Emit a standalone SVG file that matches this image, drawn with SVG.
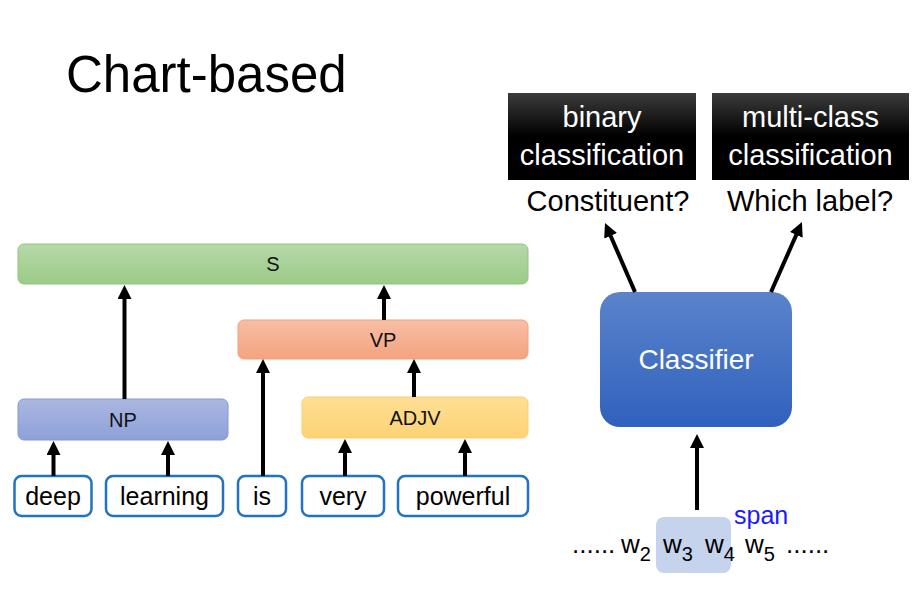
<svg xmlns="http://www.w3.org/2000/svg" width="924" height="600" viewBox="0 0 924 600">
<defs>
<linearGradient id="gS" x1="0" y1="0" x2="0" y2="1"><stop offset="0" stop-color="#b6d8a9"/><stop offset="1" stop-color="#9bcb87"/></linearGradient>
<linearGradient id="gVP" x1="0" y1="0" x2="0" y2="1"><stop offset="0" stop-color="#f7bea5"/><stop offset="1" stop-color="#f4a37f"/></linearGradient>
<linearGradient id="gNP" x1="0" y1="0" x2="0" y2="1"><stop offset="0" stop-color="#abb7e1"/><stop offset="1" stop-color="#8da1d8"/></linearGradient>
<linearGradient id="gADJ" x1="0" y1="0" x2="0" y2="1"><stop offset="0" stop-color="#fedf95"/><stop offset="1" stop-color="#fdd274"/></linearGradient>
<linearGradient id="gBlk" x1="0" y1="0" x2="0" y2="1"><stop offset="0" stop-color="#3c3c3c"/><stop offset="0.5" stop-color="#000"/><stop offset="1" stop-color="#000"/></linearGradient>
<linearGradient id="gCls" x1="0" y1="0" x2="0" y2="1"><stop offset="0" stop-color="#5b83cb"/><stop offset="1" stop-color="#2f61bd"/></linearGradient>
<marker id="ah" viewBox="0 0 14 14" refX="2" refY="7" markerWidth="14" markerHeight="14" markerUnits="userSpaceOnUse" orient="auto"><path d="M0,0 L14,7 L0,14 z" fill="#000"/></marker>
<style>
text{font-family:"Liberation Sans",Arial,sans-serif}
.lbl{font-size:20px;fill:#111;text-anchor:middle}
.word rect{fill:#fff;stroke:#2272c3;stroke-width:2.5}
.word text{font-size:25px;fill:#000;text-anchor:middle}
.con line{stroke:#000;stroke-width:4;marker-end:url(#ah)}
.wt{font-size:29px;fill:#fff;text-anchor:middle}
.q{font-size:29px;fill:#000;text-anchor:middle}
.seq{font-size:26px;fill:#000}
.sub{font-size:20px}
</style>
</defs>
<rect width="924" height="600" fill="#fff"/>
<text x="66" y="92" font-size="51" fill="#000" style="font-weight:300">Chart-based</text>

<g id="S"><rect x="18" y="244" width="510" height="40" rx="6" fill="url(#gS)" stroke="#93c47f"/><text class="lbl" x="273" y="271">S</text></g>
<g id="VP"><rect x="238" y="320" width="290" height="39" rx="6" fill="url(#gVP)" stroke="#f3a17e"/><text class="lbl" x="383" y="347">VP</text></g>
<g id="NP"><rect x="18" y="399" width="210" height="41" rx="6" fill="url(#gNP)" stroke="#8498d0"/><text class="lbl" x="123" y="427">NP</text></g>
<g id="ADJV"><rect x="302" y="397" width="226" height="41" rx="6" fill="url(#gADJ)" stroke="#fbcf6c"/><text class="lbl" x="415" y="425">ADJV</text></g>

<g id="w-deep" class="word"><rect x="14.5" y="476" width="77" height="40" rx="7"/><text x="53" y="505">deep</text></g>
<g id="w-learning" class="word"><rect x="106" y="476" width="117" height="40" rx="7"/><text x="164.5" y="505">learning</text></g>
<g id="w-is" class="word"><rect x="238" y="476" width="48" height="40" rx="7"/><text x="262" y="505">is</text></g>
<g id="w-very" class="word"><rect x="302" y="476" width="82" height="40" rx="7"/><text x="343" y="505">very</text></g>
<g id="w-powerful" class="word"><rect x="398" y="476" width="130" height="40" rx="7"/><text x="463" y="505">powerful</text></g>

<g id="binary"><rect x="508" y="93" width="188" height="87" fill="url(#gBlk)"/><text class="wt" x="602" y="127">binary</text><text class="wt" x="602" y="165">classification</text></g>
<g id="multiclass"><rect x="712" y="93" width="197" height="87" fill="url(#gBlk)"/><text class="wt" x="810.5" y="127">multi-class</text><text class="wt" x="810.5" y="165">classification</text></g>
<g id="q1"><text class="q" x="608" y="211">Constituent?</text></g>
<g id="q2"><text class="q" x="810" y="211">Which label?</text></g>

<g id="Classifier"><rect x="600" y="292" width="192" height="135" rx="20" fill="url(#gCls)"/><text x="696" y="369" font-size="28" fill="#fff" text-anchor="middle">Classifier</text></g>

<g id="spanseq">
<rect x="656" y="517" width="75" height="56" rx="8" fill="#c6d3ec"/>
<text class="seq" x="572" y="553">......</text>
<text class="seq" x="621" y="553">w<tspan class="sub" dy="8">2</tspan></text>
<text class="seq" x="663" y="553" fill="#4b5367">w<tspan class="sub" dy="8">3</tspan></text>
<text class="seq" x="705" y="553" fill="#4b5367">w<tspan class="sub" dy="8">4</tspan></text>
<text class="seq" x="745" y="553">w<tspan class="sub" dy="8">5</tspan></text>
<text class="seq" x="786" y="553">......</text>
<text x="734" y="524" font-size="25" fill="#1a1aff">span</text>
</g>

<g id="connectors" class="con">
<line x1="53.5" y1="476" x2="53.5" y2="453"/>
<line x1="168" y1="476" x2="168" y2="453"/>
<line x1="263" y1="476" x2="263" y2="371"/>
<line x1="345" y1="476" x2="345" y2="451"/>
<line x1="465" y1="476" x2="465" y2="451"/>
<line x1="414" y1="397" x2="414" y2="371"/>
<line x1="124.5" y1="399" x2="124.5" y2="297"/>
<line x1="384" y1="320" x2="384" y2="297"/>
<line x1="697" y1="510" x2="697" y2="446"/>
<line x1="635" y1="292" x2="609.8" y2="234"/>
<line x1="771" y1="292" x2="797.1" y2="233"/>
</g>
</svg>
